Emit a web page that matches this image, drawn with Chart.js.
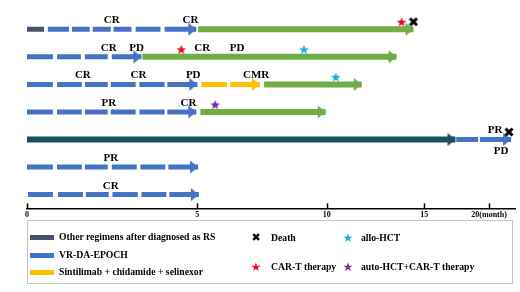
<!DOCTYPE html>
<html>
<head>
<meta charset="utf-8">
<script src="https://cdn.jsdelivr.net/npm/chart.js@4.4.1/dist/chart.umd.min.js"></script>
<style>
  body { margin: 0; background: #fff; width: 520px; height: 292px; position: relative; overflow: hidden; }
  #wrap { position: absolute; left: 0; top: 0; width: 520px; height: 222px; }
  #legend { position: absolute; left: 27px; top: 220px; width: 486px; height: 64px; border: 1px solid #c4c4c4; box-sizing: border-box;
            font: bold 9.7px "Liberation Serif", "Times New Roman", serif; color: #000; }
  #legend .it { position: absolute; height: 14px; line-height: 14px; white-space: nowrap; }
  #legend .sw { position: absolute; left: 2px; top: 5px; width: 24px; height: 5px; }
  #legend .sym { position: absolute; width: 12px; text-align: center; font-family: "DejaVu Sans", sans-serif; }
</style>
</head>
<body>
<div id="wrap"><canvas id="timeline"></canvas></div>
<div id="legend">
  <div class="it" style="left:0;top:9px"><span class="sw" style="background:#44546a"></span><span style="margin-left:31px">Other regimens after diagnosed as RS</span></div>
  <div class="it" style="left:0;top:27px"><span class="sw" style="background:#4472c4"></span><span style="margin-left:31px">VR-DA-EPOCH</span></div>
  <div class="it" style="left:0;top:44px"><span class="sw" style="background:#ffc000"></span><span style="margin-left:31px">Sintilimab + chidamide + selinexor</span></div>
  <div class="it" style="left:222px;top:10px"><span class="sym" style="font-size:11px">✖</span><span style="margin-left:21px">Death</span></div>
  <div class="it" style="left:314px;top:10px"><span class="sym" style="color:#1cb0e8;font-size:12px">★</span><span style="margin-left:19px">allo-HCT</span></div>
  <div class="it" style="left:222px;top:39px"><span class="sym" style="color:#e8101e;font-size:12px">★</span><span style="margin-left:21px">CAR-T therapy</span></div>
  <div class="it" style="left:314px;top:39px"><span class="sym" style="color:#7030a0;font-size:12px">★</span><span style="margin-left:19px">auto-HCT+CAR-T therapy</span></div>
</div>
<script>
// patient rows, top to bottom
const patients = [1, 2, 3, 4, 5, 6, 7];

// treatment segments: [patient, start month, end month]
const otherRegimens = [[1, 0, 0.5]];
const longRegimen = [[5, 0, 17.4]];
const vrDaEpoch = [
  [1, 0.61, 1.23], [1, 1.32, 1.84], [1, 1.93, 2.46], [1, 2.54, 3.07], [1, 3.19, 3.92], [1, 4.04, 4.97],
  [2, 0, 0.76], [2, 0.88, 1.58], [2, 1.70, 2.37], [2, 2.49, 3.36],
  [3, 0, 0.76], [3, 0.88, 1.61], [3, 1.70, 2.37], [3, 2.46, 3.19], [3, 3.30, 4.04], [3, 4.12, 5.0],
  [4, 0, 0.76], [4, 0.88, 1.61], [4, 1.70, 2.37], [4, 2.46, 3.19], [4, 3.30, 4.04], [4, 4.12, 4.97],
  [5, 17.46, 19.15], [5, 19.3, 21.7],
  [6, 0, 0.76], [6, 0.88, 1.61], [6, 1.70, 2.37], [6, 2.49, 3.22], [6, 3.33, 4.06], [6, 4.15, 5.03],
  [7, 0.03, 0.76], [7, 0.91, 1.64], [7, 1.73, 2.40], [7, 2.51, 3.25], [7, 3.36, 4.09], [7, 4.18, 5.06]
];
const sintilimabCombo = [[3, 5.15, 6.15], [3, 6.27, 7.42]];
const followUp = [[1, 5.03, 14.44], [2, 3.39, 13.57], [3, 7.58, 11.79], [4, 5.12, 9.96]];

// events: [patient, month]
const deaths = [[1, 14.44], [5, 21.54]];
const carT = [[1, 13.83], [2, 4.53]];
const alloHct = [[2, 9.12], [3, 10.46]];
const autoHctCarT = [[4, 5.69]];

// response labels: [patient, month, text, where]
const responses = [
  [1, 2.49, 'CR'], [1, 4.80, 'CR'],
  [2, 2.40, 'CR'], [2, 3.22, 'PD'], [2, 5.19, 'CR'], [2, 6.54, 'PD'],
  [3, 1.64, 'CR'], [3, 3.27, 'CR'], [3, 4.88, 'PD'], [3, 7.27, 'CMR'],
  [4, 2.40, 'PR'], [4, 4.74, 'CR'],
  [5, 20.46, 'PR'], [5, 20.92, 'PD', 'below'],
  [6, 2.46, 'PR'],
  [7, 2.46, 'CR']
];

const tickMonths = [0, 5, 10, 15, 20];

// the month axis is drawn compressed after month 5
const axisBreaks = [0, 5, 10, 15, 20, 22];
const axisWeights = [171, 130, 98, 65, 26];

class PiecewiseScale extends Chart.LinearScale {
  static id = 'piecewise';
  static defaults = Chart.LinearScale.defaults;
  toDecimal(v) {
    const total = axisWeights.reduce((a, b) => a + b, 0);
    let acc = 0;
    for (let i = 0; i < axisWeights.length; i++) {
      const a = axisBreaks[i], b = axisBreaks[i + 1];
      if (v <= b || i === axisWeights.length - 1) {
        return (acc + axisWeights[i] * (v - a) / (b - a)) / total;
      }
      acc += axisWeights[i];
    }
    return 0;
  }
  getPixelForValue(value) {
    if (value === null || isNaN(value)) return NaN;
    return this.getPixelForDecimal(this.toDecimal(value));
  }
  getValueForPixel(pixel) {
    const total = axisWeights.reduce((a, b) => a + b, 0);
    const d = this.getDecimalForPixel(pixel) * total;
    let acc = 0;
    for (let i = 0; i < axisWeights.length; i++) {
      if (d <= acc + axisWeights[i] || i === axisWeights.length - 1) {
        return axisBreaks[i] + (d - acc) / axisWeights[i] * (axisBreaks[i + 1] - axisBreaks[i]);
      }
      acc += axisWeights[i];
    }
    return 0;
  }
}
Chart.register(PiecewiseScale);

function toLine(segs) {
  const out = [];
  segs.forEach(([p, a, b]) => { out.push({ x: a, y: p }, { x: b, y: p }, { x: b, y: null }); });
  return out;
}

// last segment of each patient gets the arrow head
function arrowEnds(segs) {
  const last = {};
  segs.forEach(([p, a, b]) => { if (last[p] === undefined || b > last[p]) last[p] = b; });
  return Object.keys(last).map(p => ({ x: last[p], y: +p }));
}

function toPoints(list) {
  return list.map(([p, m]) => ({ x: m, y: p - 0.27 }));
}

function makeArrow(color) {
  const c = document.createElement('canvas');
  c.width = 18; c.height = 14;
  const g = c.getContext('2d');
  g.fillStyle = color;
  g.beginPath();
  g.moveTo(1, 0.5); g.lineTo(9, 7); g.lineTo(1, 13.5);
  g.closePath(); g.fill();
  return c;
}

function makeStar(color) {
  const c = document.createElement('canvas');
  c.width = 12; c.height = 12;
  const g = c.getContext('2d');
  g.fillStyle = color;
  g.beginPath();
  for (let i = 0; i < 10; i++) {
    const r = i % 2 === 0 ? 5 : 2.2;
    const a = -Math.PI / 2 + i * Math.PI / 5;
    g.lineTo(6 + r * Math.cos(a), 6.5 + r * Math.sin(a));
  }
  g.closePath(); g.fill();
  return c;
}

function makeCross() {
  const c = document.createElement('canvas');
  c.width = 10; c.height = 10;
  const g = c.getContext('2d');
  g.strokeStyle = '#000'; g.lineWidth = 3; g.lineCap = 'butt';
  g.beginPath();
  g.moveTo(1.5, 1.5); g.lineTo(8.5, 8.5);
  g.moveTo(8.5, 1.5); g.lineTo(1.5, 8.5);
  g.stroke();
  return c;
}

const colors = {
  other: '#44546a',
  long: '#1f4e5c',
  epoch: '#4472c4',
  sinti: '#ffc000',
  follow: '#70ad47'
};

function segDataset(segs, color, width) {
  return { type: 'line', data: toLine(segs), borderColor: color, borderWidth: width, borderCapStyle: 'butt',
           pointRadius: 0, spanGaps: false, fill: false, order: 3, clip: false };
}
function arrowDataset(segs, color) {
  return { type: 'scatter', data: arrowEnds(segs), pointStyle: makeArrow(color), pointRadius: 4, order: 2, clip: false };
}
function markDataset(list, style) {
  return { type: 'scatter', data: toPoints(list), pointStyle: style, pointRadius: 4, order: 1, clip: false };
}

const overlay = {
  id: 'overlay',
  afterDatasetsDraw(chart) {
    const { ctx, chartArea, scales: { x, y } } = chart;
    ctx.save();
    ctx.font = 'bold 11px "Liberation Serif", "Times New Roman", serif';
    ctx.fillStyle = '#000';
    ctx.textAlign = 'center';
    responses.forEach(([p, m, t, where]) => {
      const px = x.getPixelForValue(m), py = y.getPixelForValue(p);
      if (where === 'below') { ctx.textBaseline = 'top'; ctx.fillText(t, px, py + 6); }
      else { ctx.textBaseline = 'alphabetic'; ctx.fillText(t, px, py - 6); }
    });
    // small ticks pointing up from the axis line
    ctx.strokeStyle = '#000';
    ctx.lineWidth = 1.5;
    x.ticks.forEach(t => {
      const px = Math.round(x.getPixelForValue(t.value)) + 0.5;
      ctx.beginPath();
      ctx.moveTo(px, chartArea.bottom);
      ctx.lineTo(px, chartArea.bottom - 5);
      ctx.stroke();
    });
    ctx.restore();
  }
};

new Chart(document.getElementById('timeline'), {
  type: 'line',
  data: {
    datasets: [
      segDataset(otherRegimens, colors.other, 5),
      segDataset(longRegimen, colors.long, 6),
      arrowDataset(longRegimen, colors.long),
      segDataset(vrDaEpoch, colors.epoch, 5),
      arrowDataset(vrDaEpoch, colors.epoch),
      segDataset(sintilimabCombo, colors.sinti, 5),
      arrowDataset(sintilimabCombo, colors.sinti),
      segDataset(followUp, colors.follow, 6),
      arrowDataset(followUp, colors.follow),
      markDataset(carT, makeStar('#e8101e')),
      markDataset(alloHct, makeStar('#1cb0e8')),
      markDataset(autoHctCarT, makeStar('#7030a0')),
      markDataset(deaths, makeCross())
    ]
  },
  options: {
    responsive: true,
    maintainAspectRatio: false,
    animation: false,
    layout: { padding: { left: 27, right: 3, top: 0, bottom: 0 } },
    plugins: { legend: { display: false }, tooltip: { enabled: false } },
    scales: {
      x: {
        type: 'piecewise',
        min: 0,
        max: 22,
        afterBuildTicks: (scale) => { scale.ticks = tickMonths.map(v => ({ value: v })); },
        grid: { display: false, drawTicks: false },
        border: { display: true, color: '#000', width: 1.5 },
        ticks: {
          padding: 2,
          color: '#000',
          maxRotation: 0,
          autoSkip: false,
          font: { family: '"Liberation Serif", "Times New Roman", serif', size: 8, weight: 'bold' },
          callback: (v) => v === 20 ? '20(month)' : String(v)
        }
      },
      y: {
        type: 'linear',
        display: false,
        reverse: true,
        min: 0.12,
        max: 7.5
      }
    }
  },
  plugins: [overlay]
});
</script>
</body>
</html>
